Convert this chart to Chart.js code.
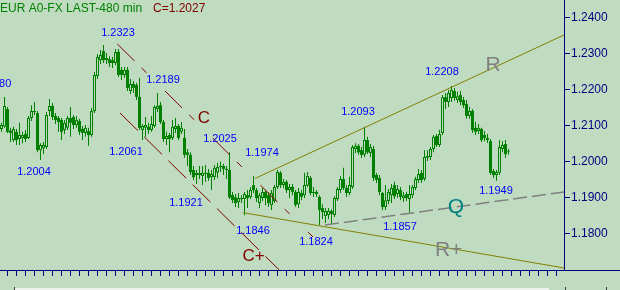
<!DOCTYPE html>
<html>
<head>
<meta charset="utf-8">
<script src="https://cdn.jsdelivr.net/npm/chart.js@4/dist/chart.umd.min.js"></script>
<style>
  html, body { margin: 0; padding: 0; background: #C0DCC0; overflow: hidden; }
  #wrap { width: 620px; height: 290px; }
</style>
</head>
<body>
<div id="wrap"><canvas id="c" width="620" height="290"></canvas></div>
<script>
// ---- candle data (EUR A0-FX, 480 min bars) ----
const opens = [
1.2090,1.2096,1.2145,1.2085,1.2059,1.2082,1.2062,1.2065,1.2076,1.2065,
1.2120,1.2137,1.2134,1.2031,1.2036,1.2040,1.2140,1.2154,1.2126,1.2120,
1.2115,1.2087,1.2093,1.2120,1.2123,1.2101,1.2112,1.2090,1.2079,1.2084,
1.2073,1.2140,1.2237,1.2281,1.2306,1.2281,1.2284,1.2281,1.2273,1.2304,
1.2254,1.2240,1.2254,1.2195,1.2215,1.2212,1.2179,1.2087,1.2093,1.2096,
1.2087,1.2098,1.2145,1.2156,1.2109,1.2062,1.2073,1.2065,1.2090,1.2098,
1.2082,1.2065,1.2025,1.2018,1.1976,1.1962,1.1962,1.1959,1.1968,1.1968,
1.1956,1.1956,1.1968,1.1984,1.1987,1.1979,1.1976,1.1906,1.1900,1.1886,
1.1898,1.1895,1.1906,1.1901,1.1934,1.1920,1.1884,1.1898,1.1915,1.1906,
1.1878,1.1890,1.1929,1.1968,1.1934,1.1943,1.1920,1.1929,1.1915,1.1881,
1.1912,1.1906,1.1932,1.1954,1.1912,1.1915,1.1901,1.1870,1.1848,1.1851,
1.1862,1.1851,1.1895,1.1920,1.1951,1.1926,1.1912,1.1929,1.2034,1.2043,
1.2031,1.2018,1.2059,1.2023,1.2034,1.1962,1.1954,1.1912,1.1873,1.1890,
1.1906,1.1934,1.1909,1.1920,1.1898,1.1909,1.1895,1.1906,1.1926,1.1948,
1.1968,1.1951,1.2010,1.2012,1.2034,1.2070,1.2045,1.2079,1.2178,1.2165,
1.2176,1.2195,1.2170,1.2184,1.2170,1.2159,1.2126,1.2140,1.2093,1.2084,
1.2090,1.2073,1.2059,1.2056,1.1973,1.1962,1.1968,1.2034,1.2048,1.2025
];
const highs = [
1.2107,1.2179,1.2151,1.2093,1.2096,1.2090,1.2107,1.2082,1.2087,1.2126,
1.2156,1.2165,1.2140,1.2050,1.2054,1.2137,1.2173,1.2162,1.2134,1.2126,
1.2120,1.2115,1.2126,1.2151,1.2129,1.2126,1.2118,1.2098,1.2101,1.2093,
1.2148,1.2248,1.2298,1.2309,1.2323,1.2301,1.2292,1.2290,1.2312,1.2312,
1.2262,1.2262,1.2262,1.2229,1.2223,1.2218,1.2232,1.2104,1.2123,1.2107,
1.2126,1.2156,1.2190,1.2165,1.2115,1.2082,1.2079,1.2115,1.2120,1.2104,
1.2109,1.2090,1.2034,1.2025,1.1987,1.1976,1.1987,1.1987,1.1990,1.1979,
1.1976,1.1990,1.1996,1.1999,1.1993,1.1987,1.2025,1.1915,1.1909,1.1912,
1.1906,1.1915,1.1920,1.1929,1.1959,1.1926,1.1912,1.1926,1.1920,1.1915,
1.1920,1.1934,1.1976,1.1973,1.1951,1.1948,1.1937,1.1937,1.1920,1.1926,
1.1920,1.1968,1.1970,1.1959,1.1929,1.1920,1.1906,1.1881,1.1870,1.1870,
1.1867,1.1903,1.1929,1.1959,1.1982,1.1934,1.1957,1.2045,1.2050,1.2048,
1.2040,1.2096,1.2068,1.2048,1.2043,1.1968,1.1962,1.1915,1.1934,1.1923,
1.1937,1.1943,1.1934,1.1929,1.1915,1.1915,1.1934,1.1934,1.1957,1.1979,
1.1976,1.2031,1.2031,1.2040,1.2073,1.2076,1.2088,1.2184,1.2190,1.2198,
1.2209,1.2204,1.2193,1.2195,1.2179,1.2170,1.2151,1.2145,1.2109,1.2104,
1.2093,1.2084,1.2076,1.2062,1.1979,1.1976,1.2059,1.2056,1.2059,1.2034
];
const lows = [
1.2082,1.2093,1.2079,1.2054,1.2054,1.2045,1.2045,1.2050,1.2054,1.2062,
1.2112,1.2129,1.2025,1.2004,1.2020,1.2034,1.2126,1.2115,1.2104,1.2082,
1.2059,1.2076,1.2087,1.2068,1.2090,1.2093,1.2073,1.2059,1.2068,1.2043,
1.2068,1.2134,1.2229,1.2270,1.2273,1.2270,1.2262,1.2259,1.2267,1.2234,
1.2226,1.2232,1.2195,1.2187,1.2190,1.2170,1.2087,1.2059,1.2068,1.2076,
1.2082,1.2093,1.2137,1.2104,1.2054,1.2045,1.2025,1.2059,1.2079,1.2059,
1.2076,1.2010,1.1987,1.1962,1.1948,1.1937,1.1951,1.1934,1.1943,1.1945,
1.1920,1.1948,1.1954,1.1970,1.1962,1.1951,1.1895,1.1884,1.1873,1.1870,
1.1884,1.1850,1.1870,1.1895,1.1912,1.1887,1.1870,1.1890,1.1878,1.1873,
1.1865,1.1884,1.1923,1.1926,1.1926,1.1912,1.1898,1.1906,1.1873,1.1870,
1.1892,1.1898,1.1929,1.1906,1.1901,1.1901,1.1823,1.1840,1.1829,1.1840,
1.1826,1.1845,1.1890,1.1912,1.1920,1.1901,1.1906,1.1923,1.2023,1.2018,
1.2010,1.2012,1.2020,1.2012,1.1945,1.1940,1.1906,1.1865,1.1865,1.1881,
1.1884,1.1895,1.1898,1.1892,1.1887,1.1890,1.1857,1.1898,1.1920,1.1940,
1.1940,1.1945,1.2001,1.2004,1.2025,1.2040,1.2040,1.2073,1.2145,1.2151,
1.2165,1.2168,1.2162,1.2156,1.2148,1.2118,1.2118,1.2079,1.2073,1.2076,
1.2054,1.2056,1.2051,1.1962,1.1954,1.1946,1.1962,1.2025,1.2010,1.2018
];
const closes = [
1.2101,1.2154,1.2082,1.2079,1.2090,1.2059,1.2073,1.2073,1.2062,1.2120,
1.2140,1.2140,1.2031,1.2045,1.2045,1.2129,1.2154,1.2123,1.2115,1.2109,
1.2082,1.2107,1.2120,1.2107,1.2101,1.2115,1.2082,1.2079,1.2093,1.2073,
1.2140,1.2240,1.2290,1.2295,1.2281,1.2287,1.2273,1.2273,1.2304,1.2240,
1.2240,1.2254,1.2204,1.2215,1.2204,1.2179,1.2093,1.2098,1.2101,1.2087,
1.2104,1.2151,1.2154,1.2109,1.2062,1.2070,1.2062,1.2096,1.2098,1.2065,
1.2093,1.2018,1.2018,1.1970,1.1956,1.1968,1.1968,1.1968,1.1965,1.1954,
1.1965,1.1982,1.1984,1.1987,1.1979,1.1976,1.1900,1.1892,1.1884,1.1898,
1.1895,1.1909,1.1898,1.1920,1.1920,1.1898,1.1906,1.1915,1.1898,1.1884,
1.1912,1.1929,1.1970,1.1934,1.1943,1.1920,1.1929,1.1915,1.1879,1.1915,
1.1901,1.1934,1.1959,1.1912,1.1915,1.1909,1.1865,1.1859,1.1862,1.1862,
1.1854,1.1898,1.1923,1.1951,1.1926,1.1912,1.1934,1.2040,1.2043,1.2025,
1.2018,1.2059,1.2025,1.2040,1.1954,1.1948,1.1915,1.1873,1.1892,1.1915,
1.1926,1.1903,1.1923,1.1901,1.1906,1.1898,1.1909,1.1929,1.1951,1.1965,
1.1948,1.2012,1.2015,1.2034,1.2068,1.2045,1.2076,1.2178,1.2165,1.2190,
1.2198,1.2176,1.2181,1.2165,1.2156,1.2126,1.2140,1.2087,1.2082,1.2093,
1.2059,1.2065,1.2065,1.1968,1.1962,1.1970,1.2040,1.2045,1.2020,1.2027
];

// ---- axes ----
const slotCount = 188;                       // bar slots incl. empty space on the right
const categories = Array.from({length: slotCount}, (_, i) => String(i + 1));
const yTickValues = [1.18, 1.19, 1.20, 1.21, 1.22, 1.23, 1.24];
const yMin = 1.16981, yMax = 1.24481;

// ---- annotations (x = bar index, y = price) ----
const priceNotes = [
  {t:'1.2180', x:-2.33, y:1.22148}, {t:'1.2323', x:38.83, y:1.23564},
  {t:'1.2189', x:53.83, y:1.22259}, {t:'1.2004', x:10.83, y:1.19703},
  {t:'1.2061', x:41.5,  y:1.20259}, {t:'1.2025', x:72.83, y:1.20620},
  {t:'1.1974', x:86.83, y:1.20231}, {t:'1.1921', x:61.5,  y:1.18842},
  {t:'1.1846', x:83.83, y:1.18064}, {t:'1.1824', x:104.83,y:1.17759},
  {t:'1.2093', x:118.83,y:1.21370}, {t:'1.1857', x:132.83,y:1.18176},
  {t:'1.1949', x:164.83,y:1.19175}, {t:'1.2208', x:146.83,y:1.22495}
];
const letterNotes = [
  {t:'C',  x:67.5,   y:1.21203, c:'#800000', s:17},
  {t:'C+', x:84.03,  y:1.17350, c:'#800000', s:17},
  {t:'R',  x:163.83, y:1.22675, c:'#808080', s:21},
  {t:'R+', x:149.07, y:1.17537, c:'#808080', s:21},
  {t:'Q',  x:151.5,  y:1.18731, c:'#008080', s:21}
];
const lineC     = [{x:38.6, y:1.23259}, {x:103.83, y:1.17898}];
const lineCplus = [{x:39.5, y:1.21342}, {x:92.6,   y:1.16981}];
const lineR     = [{x:84.5, y:1.19523}, {x:187.5,  y:1.23509}];
const lineRplus = [{x:80.6, y:1.18573}, {x:187.5,  y:1.17037}];
const lineQ     = [{x:107.83,y:1.18231},{x:187.5,  y:1.19148}];

const BG = '#C0DCC0', GREEN = '#008000', NAVY = '#000080';
const FONT = '"Liberation Sans", Arial, sans-serif';

const wickData = highs.map((h, i) => [lows[i], h]);
const bodyData = opens.map((o, i) => [Math.min(o, closes[i]), Math.max(o, closes[i])]);
const isUp = i => closes[i] > opens[i];

const bgPlugin = {
  id: 'bg',
  beforeDraw(chart) {
    const {ctx, width, height} = chart;
    ctx.save(); ctx.fillStyle = BG; ctx.fillRect(0, 0, width, height); ctx.restore();
  },
  afterDraw(chart) {
    const ctx = chart.ctx, xs = chart.scales.xl, ys = chart.scales.y, ca = chart.chartArea;
    ctx.save();
    // axis line continues under the price scale
    ctx.strokeStyle = NAVY; ctx.lineWidth = 1;
    ctx.beginPath(); ctx.moveTo(ca.right, Math.round(ca.bottom) + 0.5); ctx.lineTo(chart.width, Math.round(ca.bottom) + 0.5); ctx.stroke();
    // scroll strip along the bottom edge
    ctx.fillStyle = '#EEF2EE'; ctx.fillRect(14, 288, 535, 2);
    ctx.fillStyle = '#404040';
    [14, 565, 606].forEach(x => ctx.fillRect(x, 287, 1, 3));
    // header
    ctx.textBaseline = 'middle'; ctx.textAlign = 'left';
    ctx.font = '12px ' + FONT;
    ctx.fillStyle = GREEN; ctx.fillText('EUR A0-FX LAST-480 min', 0, 9);
    ctx.fillStyle = '#800000'; ctx.fillText('C=1.2027', 153, 9);
    // price labels
    ctx.textAlign = 'center';
    ctx.font = '11px ' + FONT; ctx.fillStyle = '#0000FF';
    priceNotes.forEach(n => ctx.fillText(n.t, xs.getPixelForValue(n.x), ys.getPixelForValue(n.y)));
    letterNotes.forEach(n => {
      ctx.font = n.s + 'px ' + FONT; ctx.fillStyle = n.c;
      ctx.fillText(n.t, xs.getPixelForValue(n.x), ys.getPixelForValue(n.y));
    });
    ctx.restore();
  }
};

const lineDs = (data, color, dash, width) => ({
  type: 'line', xAxisID: 'xl', yAxisID: 'y', data,
  borderColor: color, borderWidth: width || 1, borderDash: dash || [],
  pointRadius: 0, fill: false, order: -1, tension: 0
});

new Chart(document.getElementById('c'), {
  type: 'bar',
  data: {
    labels: categories,
    datasets: [
      {
        label: 'body', data: bodyData, grouped: false, order: 1,
        barThickness: 3, minBarLength: 1, inflateAmount: 0, borderSkipped: false,
        backgroundColor: ctx => isUp(ctx.dataIndex) ? BG : GREEN,
        borderColor: GREEN,
        borderWidth: ctx => isUp(ctx.dataIndex) ? 1 : 0
      },
      {
        label: 'wick', data: wickData, grouped: false, order: 2,
        barThickness: 1, inflateAmount: 0, borderWidth: 0,
        backgroundColor: GREEN
      },
      lineDs(lineC, '#800000', [24, 10, 7, 26]),
      lineDs(lineCplus, '#800000', [25, 9]),
      lineDs(lineR, '#808000'),
      lineDs(lineRplus, '#808000'),
      lineDs(lineQ, '#808080', [14, 5], 1.5)
    ]
  },
  options: {
    responsive: false, animation: false, devicePixelRatio: 1,
    layout: { padding: 0 },
    plugins: { legend: { display: false }, tooltip: { enabled: false } },
    scales: {
      x: {
        type: 'category', position: 'bottom', offset: true,
        grid: {
          drawOnChartArea: false, drawTicks: true, tickLength: 6, offset: false,
          color: ctx => (ctx.index % 3 === 2 ? NAVY : 'rgba(0,0,0,0)')
        },
        border: { display: true, color: NAVY, width: 1 },
        ticks: { autoSkip: false, maxRotation: 0, callback: () => '', font: { size: 1 }, padding: 0 },
        afterFit: s => { s.height = 20; s.paddingLeft = 0; s.paddingRight = 0; }
      },
      xl: { type: 'linear', display: false, offset: false, grid: { offset: false }, min: -0.5, max: slotCount - 0.5 },
      y: {
        type: 'linear', position: 'right', min: yMin, max: yMax,
        afterBuildTicks: s => { s.ticks = yTickValues.map(v => ({ value: v })); },
        grid: { drawOnChartArea: false, tickLength: 6, color: NAVY },
        border: { display: true, color: NAVY, width: 1 },
        ticks: { color: NAVY, padding: 1, font: { family: FONT, size: 12 }, callback: v => Number(v).toFixed(4) },
        afterFit: s => { s.width = 56; s.paddingTop = 0; s.paddingBottom = 0; }
      }
    }
  },
  plugins: [bgPlugin]
});
</script>
</body>
</html>
